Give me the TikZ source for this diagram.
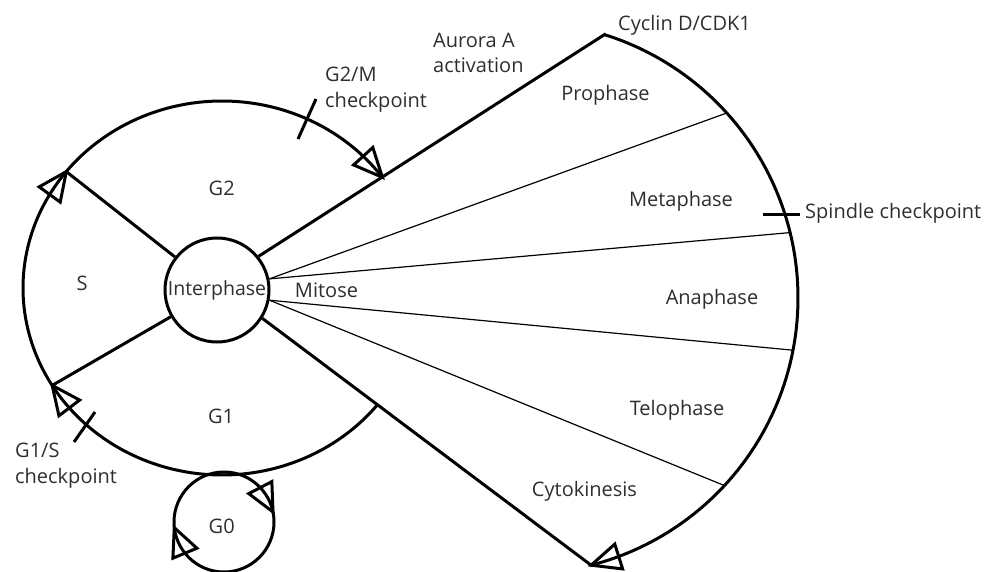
\documentclass[tikz,border=0pt]{standalone}
\usepackage{fontspec}
\setmainfont{Open Sans}
\usetikzlibrary{calc}
\colorlet{txt}{black!82}
\newcommand\openhead[2]{\draw[head] (#2) -- ($(#1)!13pt!90:(#2)$) -- ($(#1)!13pt!-90:(#2)$) -- cycle;}
\begin{document}
\begin{tikzpicture}[x=1pt,y=-1pt,
  thickline/.style={line width=3pt, line join=miter},
  thinline/.style={line width=1.2pt},
  lbl/.style={text=txt, font=\fontsize{20}{25.5}\selectfont, inner sep=0pt},
  head/.style={line width=3pt, line join=miter}]
\useasboundingbox (0,0) rectangle (995,572);

% interphase circle
\node[draw, circle, line width=3pt, minimum size=104pt, inner sep=0pt, lbl, font=\fontsize{19.5}{24}\selectfont] (inter) at (217,290) {Interphase};

% key points
\coordinate (sg2) at (66.3,171.6);
\coordinate (g1s) at (52.2,385.4);
\coordinate (g2end) at (382.4,177.3);
\coordinate (g2base) at (363.2,156.2);
\coordinate (sbase) at (49.7,194.5);
\coordinate (g1base) at (69.3,407.9);
\coordinate (mtop) at (604.5,34.6);
\coordinate (mbot) at (591.1,565.2);
\coordinate (mbase) at (618.7,556.5);
\coordinate (d1) at (726.7,113.0);
\coordinate (d2) at (790.1,232.6);
\coordinate (d3) at (793.0,350.2);
\coordinate (d4) at (724.5,485.6);

% spokes
\draw[thickline] (inter) -- (sg2);
\draw[thickline] (inter) -- (g1s);

% interphase arcs (G1, S, G2)
\draw[thickline] plot[domain=141.5:36.3, samples=90] ({222+199*cos(\x)},{288-187*sin(\x)});
\draw[thickline] plot[domain=211.4:141.5, samples=60] ({222+199*cos(\x)},{288-187*sin(\x)});
\draw[thickline] plot[domain=321.2:211.4, samples=90] ({222+199*cos(\x)},{288-187*sin(\x)});
\openhead{g2base}{g2end}
\openhead{sbase}{sg2}
\openhead{g1base}{g1s}

% mitosis sector
\draw[thickline] (inter.39) -- (mtop) -- plot[domain=72.6:-75.5, samples=120] ({522+276*cos(\x)},{298-276*sin(\x)}) -- (inter.-32);
\openhead{mbase}{mbot}
\draw[thinline] (inter.12) -- (d1);
\draw[thinline] (inter.12) -- (d2);
\draw[thinline] (inter.-11) -- (d3);
\draw[thinline] (inter.-11) -- (d4);

% G0 circle
\node[draw, circle, line width=3pt, minimum size=100pt, inner sep=0pt] (g0) at (224,522) {};
\coordinate (g0rt) at (273.0,512.0);
\coordinate (g0rb) at (260.3,487.6);
\coordinate (g0lt) at (174.3,527.7);
\coordinate (g0lb) at (184.9,553.2);
\openhead{g0rb}{g0rt}
\openhead{g0lb}{g0lt}

% checkpoint ticks
\draw[thickline] (298,139) -- (316,99);
\draw[thickline] (74,442) -- (95,412);
\draw[thickline] (763,214) -- (800,214);

% labels
\node[lbl, anchor=base] (tS) at (82,290) {S};
\node[lbl, anchor=base] (tG2) at (221.7,195) {G2};
\node[lbl, anchor=base] (tG1) at (221,423) {G1};
\node[lbl, anchor=base] (tG0) at (221.7,533) {G0};
\node[lbl, anchor=base] (tMit) at (326.5,297) {Mitose};
\node[lbl, anchor=base] (tPro) at (605.5,101) {Prophase};
\node[lbl, anchor=base] (tMet) at (681,206) {Metaphase};
\node[lbl, anchor=base] (tAna) at (712,304) {Anaphase};
\node[lbl, anchor=base] (tTel) at (677,415.5) {Telophase};
\node[lbl, anchor=base] (tCyt) at (584.5,496.5) {Cytokinesis};
\node[lbl, anchor=base west] (tCyc) at (618,31) {Cyclin D/CDK1};
\node[lbl, anchor=base west] (tSpi) at (805,218) {Spindle checkpoint};
\node[lbl, anchor=base west, align=left] (tAur) at (433,73) {Aurora A\\activation};
\node[lbl, anchor=base west, align=left] (tG2M) at (325,107.5) {G2/M\\checkpoint};
\node[lbl, anchor=base west, align=left] (tG1S) at (15,483) {G1/S\\checkpoint};
\end{tikzpicture}
\end{document}
